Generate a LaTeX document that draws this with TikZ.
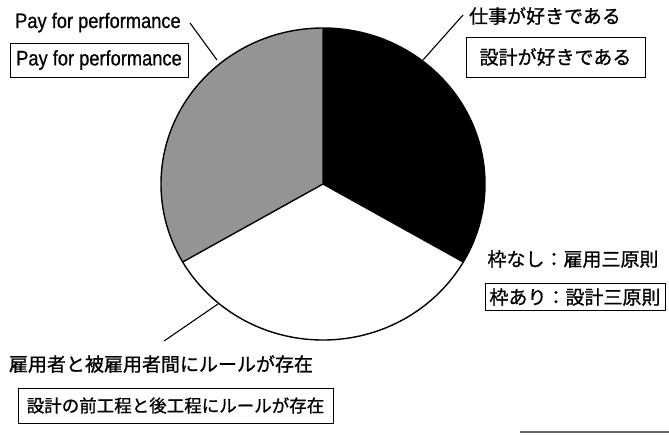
\documentclass[tikz,border=0pt]{standalone}
\usepackage{fontspec}
\newfontfamily\jp[FakeBold=0.9]{Noto Sans CJK JP}
\newfontfamily\en[FakeStretch=0.87,FakeBold=0.7]{Liberation Sans}
\begin{document}
\begin{tikzpicture}[x=1pt,y=-1pt,
  lbl/.style={inner sep=0pt,font=\jp\fontsize{19}{19}\selectfont},
  enl/.style={inner sep=0pt,font=\en\fontsize{21}{21}\selectfont},
  boxed/.style={draw,line width=1pt,inner sep=0pt},
  leader/.style={line width=1.1pt},
  slice/.style={line width=1.4pt}]
\useasboundingbox (0,0) rectangle (669,434);
% pie
\coordinate (C) at (323,184);
\coordinate (T) at (323,28);
\coordinate (R) at (463.3,262);
\coordinate (L) at (182.7,262);
\fill[white] (C) ellipse[x radius=162,y radius=156];
\fill[black] (C) -- (T) arc[start angle=-90,end angle=30,x radius=162,y radius=156] -- cycle;
\fill[black!42] (C) -- (T) arc[start angle=270,end angle=150,x radius=162,y radius=156] -- cycle;
\draw[slice] (C) -- (T) (C) -- (R) (C) -- (L);
\draw[slice] (C) ellipse[x radius=162,y radius=156];
% labels
\node[enl,anchor=base west] (t1) at (15,28) {Pay for performance};
\node[boxed,enl,minimum width=178pt,minimum height=34pt] (b1) at (99,60) {Pay for performance};
\node[lbl] (t2) at (545,16) {仕事が好きである};
\node[boxed,lbl,minimum width=179pt,minimum height=40pt] (b2) at (555.5,57) {設計が好きである};
\node[lbl] (t3) at (573,259) {枠なし：雇用三原則};
\node[boxed,lbl,minimum width=180pt,minimum height=27pt] (b3) at (575,297) {枠あり：設計三原則};
\node[lbl] (t4) at (161,364) {雇用者と被雇用者間にルールが存在};
\node[boxed,lbl,font=\jp\fontsize{17.5}{17.5}\selectfont,minimum width=315pt,minimum height=35pt] (b4) at (175.5,405.5) {設計の前工程と後工程にルールが存在};
% leaders
\coordinate (l1a) at (190,23);
\coordinate (l1b) at (217,60);
\coordinate (l2a) at (463,15);
\coordinate (l2b) at (423,60);
\coordinate (l3a) at (218,304);
\coordinate (l3b) at (164,341);
\draw[leader] (l1a) -- (l1b);
\draw[leader] (l2a) -- (l2b);
\draw[leader] (l3a) -- (l3b);
% scan edge
\coordinate (e1) at (520,432);
\coordinate (e2) at (669,432);
\draw[line width=1.2pt,black!60] (e1) -- (e2);
\end{tikzpicture}
\end{document}
